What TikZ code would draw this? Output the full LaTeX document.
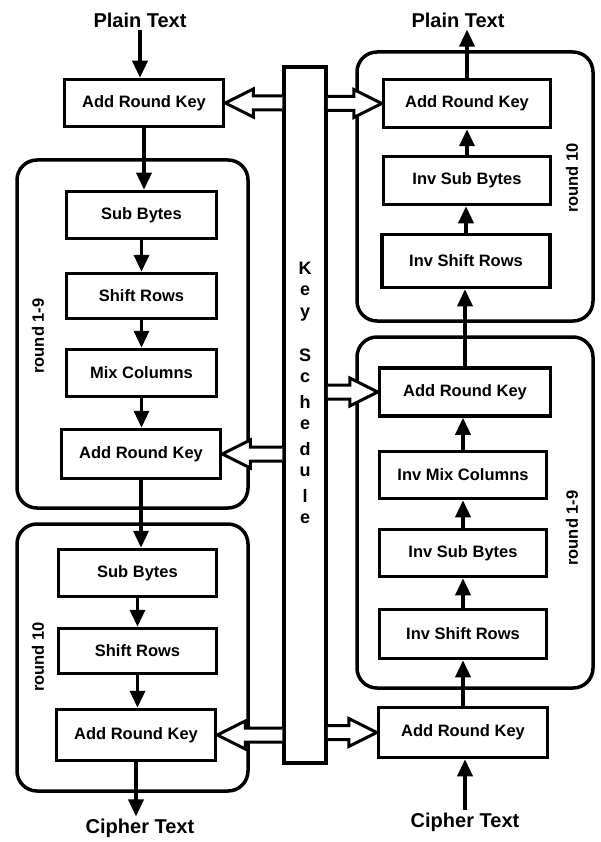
\documentclass[tikz,border=0pt]{standalone}
\usepackage{fontspec}
\setmainfont{Liberation Sans}
\usetikzlibrary{arrows.meta,calc}

% hollow block arrow from the key schedule to a round key box
\newcommand{\keyfeed}[2]{%
  \draw[keyarrow] let \p1=(#1), \p2=(#2), \n1={ifthenelse(\x2>\x1,1,-1)} in
    (\x1,\y1+7pt) -- (\x2-\n1*28pt,\y1+7pt) -- (\x2-\n1*28pt,\y1+14pt) -- (\x2,\y1)
    -- (\x2-\n1*28pt,\y1-14pt) -- (\x2-\n1*28pt,\y1-7pt) -- (\x1,\y1-7pt);}

\begin{document}
\begin{tikzpicture}[x=1pt,y=-1pt,
    stepbox/.style={draw, line width=3.5pt, inner sep=0pt, font=\bfseries\fontsize{16.5}{19}\selectfont},
    roundbox/.style={draw, line width=3.5pt, rounded corners=20pt},
    flow/.style={line width=3.5pt, -{Triangle[width=15pt,length=17pt]}},
    endtext/.style={font=\bfseries\fontsize{20}{24}\selectfont, inner sep=2pt},
    roundtag/.style={font=\bfseries\fontsize{16.5}{19}\selectfont, inner sep=0pt},
    keychar/.style={font=\bfseries\fontsize{18}{21}\selectfont, inner sep=0pt},
    keyarrow/.style={line width=3pt, fill=white, line join=miter}]
  \useasboundingbox (0,0) rectangle (600,842);

  % round frames
  \draw[roundbox] (17,160) rectangle (248,508);
  \draw[roundbox] (17,524) rectangle (248,791);
  \draw[roundbox] (357,52) rectangle (593,321);
  \draw[roundbox] (357,337) rectangle (593,688);

  % encryption
  \node[endtext] (ptL) at (140,20) {Plain Text};
  \node[stepbox, minimum width=159pt, minimum height=47pt] (ark1) at (144,103) {Add Round Key};
  \node[stepbox, minimum width=150pt, minimum height=47pt] (sb1) at (141.5,215) {Sub Bytes};
  \node[stepbox, minimum width=150pt, minimum height=45pt] (sr1) at (141.5,296) {Shift Rows};
  \node[stepbox, minimum width=150pt, minimum height=47pt] (mc1) at (141.5,373) {Mix Columns};
  \node[stepbox, minimum width=159pt, minimum height=49pt] (ark2) at (141,454) {Add Round Key};
  \node[stepbox, minimum width=158pt, minimum height=47pt] (sb2) at (137.5,573) {Sub Bytes};
  \node[stepbox, minimum width=158pt, minimum height=45pt] (sr2) at (137.5,651) {Shift Rows};
  \node[stepbox, minimum width=159pt, minimum height=51pt] (ark3) at (136,735) {Add Round Key};
  \node[endtext] (ctL) at (140,828) {Cipher Text};

  % decryption
  \node[endtext] (ptR) at (458,20) {Plain Text};
  \node[stepbox, minimum width=167pt, minimum height=48pt] (arkR1) at (467,103.5) {Add Round Key};
  \node[stepbox, minimum width=167pt, minimum height=48pt] (isb1) at (467,180.5) {Inv Sub Bytes};
  \node[stepbox, minimum width=168pt, minimum height=53pt] (isr1) at (466,261) {Inv Shift Rows};
  \node[stepbox, minimum width=171pt, minimum height=48pt] (arkR2) at (465,392) {Add Round Key};
  \node[stepbox, minimum width=167pt, minimum height=47pt] (imc) at (463,475) {Inv Mix Columns};
  \node[stepbox, minimum width=167pt, minimum height=47pt] (isb2) at (463,553) {Inv Sub Bytes};
  \node[stepbox, minimum width=167pt, minimum height=49pt] (isr2) at (463,634) {Inv Shift Rows};
  \node[stepbox, minimum width=169pt, minimum height=50pt] (arkR3) at (463,732.5) {Add Round Key};
  \node[endtext] (ctR) at (465,822) {Cipher Text};

  % round labels
  \node[roundtag, rotate=90] (tagL19) at (38,336) {round 1-9};
  \node[roundtag, rotate=90] (tagL10) at (38,657) {round 10};
  \node[roundtag, rotate=90] (tagR10) at (572,178) {round 10};
  \node[roundtag, rotate=90] (tagR19) at (572,528) {round 1-9};

  % key schedule
  \node[draw, line width=3.5pt, minimum width=42pt, minimum height=696pt] (ks) at (305,415) {};
  \foreach \ch/\yy [count=\i] in {K/268, e/291, y/315, S/355, c/378, h/402, e/425, d/449, u/472, l/496, e/519}
    \node[keychar] (kc\i) at (305,\yy) {\ch};

  % data flow
  \draw[flow] (ptL.south) -- (ptL.south |- ark1.north);
  \foreach \a/\b in {ark1/sb1, sb1/sr1, sr1/mc1, mc1/ark2, ark2/sb2, sb2/sr2, sr2/ark3, ark3/ctL}
    \draw[flow] (\a.south) -- (\a.south |- \b.north);
  \draw[flow] (ctR.north) -- (ctR.north |- arkR3.south);
  \foreach \a/\b in {arkR3/isr2, isr2/isb2, isb2/imc, imc/arkR2, arkR2/isr1, isr1/isb1, isb1/arkR1, arkR1/ptR}
    \draw[flow] (\a.north) -- (\a.north |- \b.south);

  % round keys
  \keyfeed{ks.west |- ark1}{ark1.east}
  \keyfeed{ks.west |- ark2}{ark2.east}
  \keyfeed{ks.west |- ark3}{ark3.east}
  \keyfeed{ks.east |- arkR1}{arkR1.west}
  \keyfeed{ks.east |- arkR2}{arkR2.west}
  \keyfeed{ks.east |- arkR3}{arkR3.west}
\end{tikzpicture}
\end{document}
